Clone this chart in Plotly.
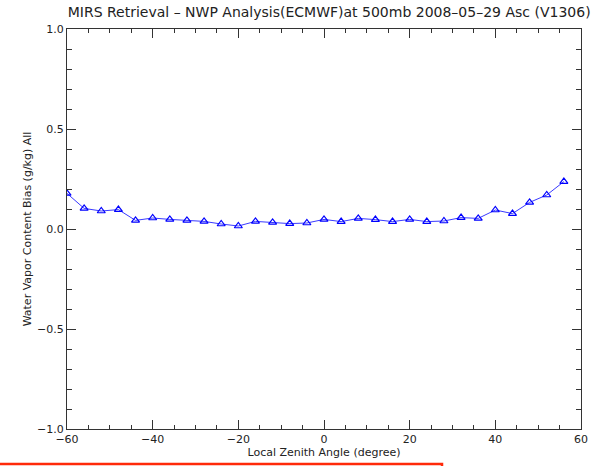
import plotly.graph_objects as go

angles = [-60, -56, -52, -48, -44, -40, -36, -32, -28, -24, -20, -16, -12, -8, -4,
          0, 4, 8, 12, 16, 20, 24, 28, 32, 36, 40, 44, 48, 52, 56]
bias = [0.178, 0.103, 0.090, 0.097, 0.043, 0.055, 0.048, 0.043, 0.038, 0.025, 0.015,
        0.038, 0.033, 0.027, 0.030, 0.048, 0.037, 0.053, 0.047, 0.037, 0.048, 0.037,
        0.040, 0.057, 0.053, 0.095, 0.077, 0.133, 0.170, 0.237]

title = "MIRS Retrieval \u2013 NWP Analysis(ECMWF)at 500mb 2008\u201305\u201329 Asc (V1306)"
xlabel = "Local Zenith Angle (degree)"
ylabel = "Water Vapor Content Bias (g/kg) All"
xticks = [-60, -40, -20, 0, 20, 40, 60]
xticklabels = ["\u221260", "\u221240", "\u221220", "0", "20", "40", "60"]
yticks = [-1.0, -0.5, 0.0, 0.5, 1.0]
yticklabels = ["\u22121.0", "\u22120.5", "0.0", "0.5", "1.0"]

font = "DejaVu Sans"
fig = go.Figure()
fig.add_trace(go.Scatter(
    x=angles, y=bias, mode="lines+markers",
    line=dict(color="#3a3aff", width=1),
    marker=dict(symbol="triangle-up-open", size=7, color="#0000ff", line=dict(width=1.2, color="#0000ff")),
    showlegend=False,
))

axcommon = dict(showline=True, linecolor="#333333", linewidth=1, mirror="ticks",
                ticks="inside", ticklen=9, tickcolor="#333333", tickwidth=1,
                showgrid=False, zeroline=False,
                tickfont=dict(family=font, size=11, color="#222222"))

fig.update_xaxes(range=[-60, 60], tickvals=xticks, ticktext=xticklabels,
                 minor=dict(ticks="inside", dtick=5, ticklen=4, tickcolor="#333333"),
                 title=dict(text=xlabel, font=dict(family=font, size=11, color="#222222"), standoff=0),
                 **axcommon)
fig.update_yaxes(range=[-1.0, 1.0], tickvals=yticks, ticktext=yticklabels,
                 minor=dict(ticks="inside", dtick=0.1, ticklen=5, tickcolor="#333333"),
                 title=dict(text=ylabel, font=dict(family=font, size=11, color="#222222"), standoff=3),
                 **axcommon)

fig.update_layout(
    width=604, height=466,
    margin=dict(l=67, r=23, t=29, b=37),
    paper_bgcolor="white", plot_bgcolor="white",
    title=dict(text=title, x=0.545, xanchor="center", y=0.985, yanchor="top",
               font=dict(family=font, size=14, color="#222222")),
)

fig.add_shape(type="path", xref="paper", yref="paper",
              path="M -0.14 -0.0875 L 0.7296 -0.0875 L 0.7296 -0.2",
              line=dict(color="#ff2a0a", width=2.5))

fig.write_html("out.html")
